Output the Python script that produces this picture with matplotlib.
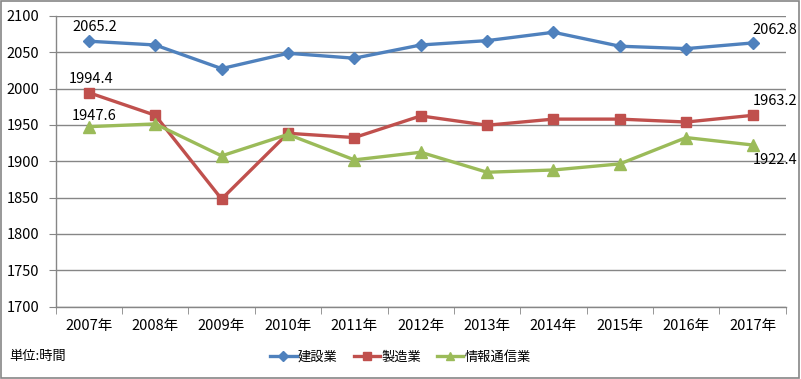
import matplotlib
matplotlib.use("Agg")
import matplotlib.pyplot as plt
from matplotlib.patches import Rectangle

plt.rcParams['font.family'] = ['Noto Sans CJK JP', 'DejaVu Sans']

# data
years = ['2007年', '2008年', '2009年', '2010年', '2011年', '2012年',
         '2013年', '2014年', '2015年', '2016年', '2017年']
construction = [2065.2, 2060.0, 2027.5, 2048.6, 2041.8, 2060.0,
                2066.0, 2077.5, 2058.3, 2055.0, 2062.8]
manufacturing = [1994.4, 1963.3, 1848.0, 1938.5, 1932.6, 1962.4,
                 1949.6, 1958.0, 1958.0, 1954.0, 1963.2]
infocomm = [1947.6, 1951.4, 1907.4, 1937.0, 1901.9, 1912.4,
            1884.9, 1888.0, 1896.4, 1932.6, 1922.4]
series_names = ['建設業', '製造業', '情報通信業']

colors = ['#4F81BD', '#C0504D', '#9BBB59']
markers = ['D', 's', '^']
msizes = [6, 7, 8]

fig = plt.figure(figsize=(8.01, 3.79), dpi=100)
ax = fig.add_axes([0.0695, 0.191, 0.9115, 0.767])

x = list(range(len(years)))
for vals, name, c, m, ms in zip([construction, manufacturing, infocomm],
                                series_names, colors, markers, msizes):
    ax.plot(x, vals, color=c, marker=m, markersize=ms, linewidth=2.4,
            label=name, zorder=3)

# end labels (offsets in points)
fs = 10.5
label_specs = [
    (x[0], construction[0], 4.5, 10, 'center', 'center'),
    (x[0], manufacturing[0], 1.5, 10, 'center', 'center'),
    (x[0], infocomm[0], 4, 7.5, 'center', 'center'),
    (x[-1], construction[-1], 0, 9, 'left', 'center'),
    (x[-1], manufacturing[-1], 0, 10, 'left', 'center'),
    (x[-1], infocomm[-1], 0, -11, 'left', 'center'),
]
for xi, yi, dx, dy, ha, va in label_specs:
    ax.annotate(f'{yi:.1f}', (xi, yi), xytext=(dx, dy),
                textcoords='offset points', ha=ha, va=va, fontsize=fs)

ax.set_xlim(-0.5, len(years) - 0.5)
ax.set_ylim(1700, 2100)
ax.set_yticks(range(1700, 2101, 50))
ax.set_xticks(x)
ax.set_xticklabels(years, fontsize=fs)
ax.tick_params(axis='x', length=0, pad=9)
ax.set_xticks([i - 0.5 for i in range(len(years) + 1)], minor=True)
ax.tick_params(axis='x', which='minor', length=5, color='#868686', direction='out')
ax.tick_params(axis='y', labelsize=fs, length=5, color='#868686', pad=7)
ax.grid(axis='y', color='#868686', linewidth=1)
ax.set_axisbelow(True)
for s in ['top', 'right']:
    ax.spines[s].set_visible(False)
for s in ['left', 'bottom']:
    ax.spines[s].set_color('#868686')
    ax.spines[s].set_linewidth(1)

fig.text(0.012, 0.059, '単位:時間', fontsize=9.5, ha='left', va='center')
fig.legend(loc='center', bbox_to_anchor=(0.5, 0.057), ncol=3, frameon=False,
           fontsize=9.5, handlelength=2.0, handletextpad=0.1, columnspacing=1.2,
           markerscale=0.8)

fig.add_artist(Rectangle((0.001, 0.002), 0.997, 0.995, transform=fig.transFigure,
                         fill=False, edgecolor='#868686', linewidth=1.2))

fig.savefig('out.png', dpi=100)
